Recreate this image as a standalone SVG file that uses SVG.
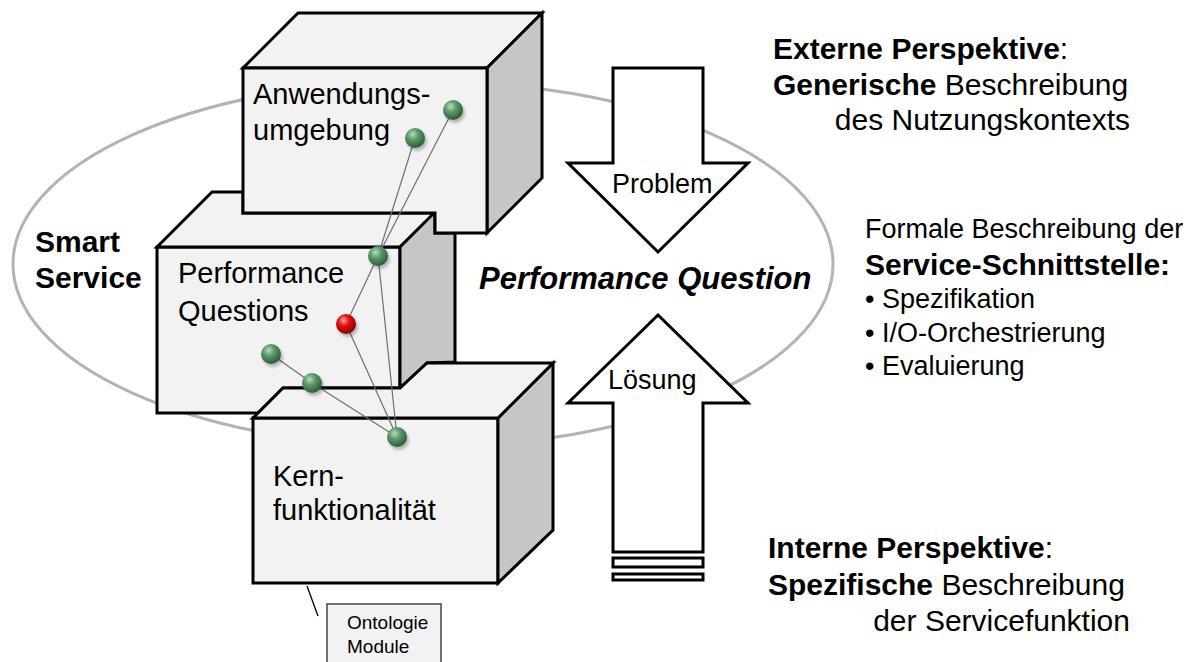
<svg xmlns="http://www.w3.org/2000/svg" width="1195" height="662" viewBox="0 0 1195 662">
<defs>
<style>
.face{fill:#f2f2f2;stroke:#000;stroke-width:3;stroke-linejoin:miter}
.side{fill:#c6c6c6;stroke:#000;stroke-width:3;stroke-linejoin:miter}
.arrow{fill:#fff;stroke:#000;stroke-width:3;stroke-linejoin:miter}
.t{font-family:"Liberation Sans",Arial,sans-serif;fill:#000}
.lbl{font-size:29px}
.b{font-weight:bold}
.link{stroke:#6e6e6e;stroke-width:1.2;fill:none}
</style>
<radialGradient id="gGreen" cx="0.38" cy="0.32" r="0.7">
<stop offset="0" stop-color="#b7dcc0"/>
<stop offset="0.4" stop-color="#5e9a6b"/>
<stop offset="1" stop-color="#2b5a36"/>
</radialGradient>
<radialGradient id="gRed" cx="0.38" cy="0.32" r="0.7">
<stop offset="0" stop-color="#ffa0a0"/>
<stop offset="0.4" stop-color="#e01010"/>
<stop offset="1" stop-color="#8a0000"/>
</radialGradient>
<filter id="sh" x="-50%" y="-50%" width="200%" height="200%">
<feGaussianBlur stdDeviation="1.5"/>
</filter>
</defs>
<rect width="1195" height="662" fill="#fff"/>

<ellipse id="smart-service-ellipse" cx="423" cy="264" rx="410" ry="183" fill="none" stroke="#b3b3b3" stroke-width="3"/>

<g id="box-kern">
<polygon class="face" points="253,418 498,418 498,583 253,583"/>
<polygon class="side" points="498,418 553,363 553,530 498,583"/>
</g>

<g id="box-performance">
<polygon class="face" points="157,247 400,247 400,388 283,388 258,413 157,413"/>
<polygon class="face" points="157,247 212,192 243,192 243,213 435,213 400,247"/>
<polygon class="side" points="400,247 435,212 435,233 455,233 455,362 427,363 400,388"/>
<text class="t lbl" x="178" y="283">Performance</text>
<text class="t lbl" x="178" y="321">Questions</text>
</g>

<g id="box-kern-top">
<polygon class="face" points="253,418 283,388 400,388 427,363 553,363 498,418"/>
<text class="t lbl" x="273" y="486">Kern-</text>
<text class="t lbl" x="273" y="520">funktionalität</text>
</g>

<g id="box-anwendung">
<polygon class="face" points="243,68 298,13 542,13 487,68"/>
<polygon class="side" points="487,68 542,13 542,178 487,233"/>
<polygon class="face" points="243,68 487,68 487,233 435,233 435,213 243,213"/>
<text class="t lbl" x="253" y="104">Anwendungs-</text>
<text class="t lbl" x="253" y="140">umgebung</text>
</g>

<g id="arrow-problem">
<polygon class="arrow" points="613,68 703,68 703,163 748,163 658,252 568,163 613,163"/>
<text class="t" x="612" y="193" font-size="27">Problem</text>
</g>

<g id="arrow-loesung">
<polygon class="arrow" points="658,315 748,403 703,403 703,552 613,552 613,403 568,403"/>
<rect class="arrow" x="613" y="558" width="90" height="9"/>
<rect class="arrow" x="613" y="574" width="90" height="6"/>
<text class="t" x="608" y="389" font-size="27">Lösung</text>
</g>

<g id="connectors">
<line class="link" x1="453" y1="110" x2="378" y2="256"/>
<line class="link" x1="415" y1="138" x2="378" y2="256"/>
<line class="link" x1="378" y1="256" x2="346" y2="324"/>
<line class="link" x1="378" y1="256" x2="397" y2="437"/>
<line class="link" x1="346" y1="324" x2="397" y2="437"/>
<line class="link" x1="271" y1="354" x2="312" y2="383"/>
<line class="link" x1="312" y1="383" x2="397" y2="437"/>
<line x1="307" y1="586" x2="318" y2="616" stroke="#000" stroke-width="1.3"/>
</g>

<g id="ball-1"><circle cx="455" cy="113" r="10" fill="#000" opacity="0.25" filter="url(#sh)"/><circle cx="453" cy="110" r="10" fill="url(#gGreen)"/></g>
<g id="ball-2"><circle cx="417" cy="141" r="10" fill="#000" opacity="0.25" filter="url(#sh)"/><circle cx="415" cy="138" r="10" fill="url(#gGreen)"/></g>
<g id="ball-3"><circle cx="380" cy="259" r="10" fill="#000" opacity="0.25" filter="url(#sh)"/><circle cx="378" cy="256" r="10" fill="url(#gGreen)"/></g>
<g id="ball-red"><circle cx="348" cy="327" r="10" fill="#000" opacity="0.25" filter="url(#sh)"/><circle cx="346" cy="324" r="10" fill="url(#gRed)"/></g>
<g id="ball-4"><circle cx="273" cy="357" r="10" fill="#000" opacity="0.25" filter="url(#sh)"/><circle cx="271" cy="354" r="10" fill="url(#gGreen)"/></g>
<g id="ball-5"><circle cx="314" cy="386" r="10" fill="#000" opacity="0.25" filter="url(#sh)"/><circle cx="312" cy="383" r="10" fill="url(#gGreen)"/></g>
<g id="ball-6"><circle cx="399" cy="440" r="10" fill="#000" opacity="0.25" filter="url(#sh)"/><circle cx="397" cy="437" r="10" fill="url(#gGreen)"/></g>

<g id="ontologie-module">
<rect x="327" y="604" width="114" height="70" fill="#f2f2f2" stroke="#444" stroke-width="1.5"/>
<text class="t" x="347" y="629" font-size="19">Ontologie</text>
<text class="t" x="347" y="653" font-size="19">Module</text>
</g>

<g id="label-smart-service">
<text class="t b" x="35" y="252" font-size="30">Smart</text>
<text class="t b" x="35" y="288" font-size="30">Service</text>
</g>

<g id="label-performance-question">
<text class="t b" x="479" y="289" font-size="31" font-style="italic">Performance Question</text>
</g>

<g id="text-extern">
<text class="t" x="773" y="59" font-size="30"><tspan class="b">Externe Perspektive</tspan>:</text>
<text class="t" x="773" y="95" font-size="30"><tspan class="b">Generische</tspan> Beschreibung</text>
<text class="t" x="1130" y="130" font-size="30" text-anchor="end">des Nutzungskontexts</text>
</g>

<g id="text-schnittstelle">
<text class="t" x="865" y="238" font-size="27">Formale Beschreibung der</text>
<text class="t b" x="865" y="275" font-size="30">Service-Schnittstelle:</text>
<text class="t" x="865" y="308" font-size="27">• Spezifikation</text>
<text class="t" x="865" y="342" font-size="27">• I/O-Orchestrierung</text>
<text class="t" x="865" y="375" font-size="27">• Evaluierung</text>
</g>

<g id="text-intern">
<text class="t" x="768" y="558" font-size="30"><tspan class="b">Interne Perspektive</tspan>:</text>
<text class="t" x="768" y="595" font-size="30"><tspan class="b">Spezifische</tspan> Beschreibung</text>
<text class="t" x="1130" y="631" font-size="30" text-anchor="end">der Servicefunktion</text>
</g>
</svg>
